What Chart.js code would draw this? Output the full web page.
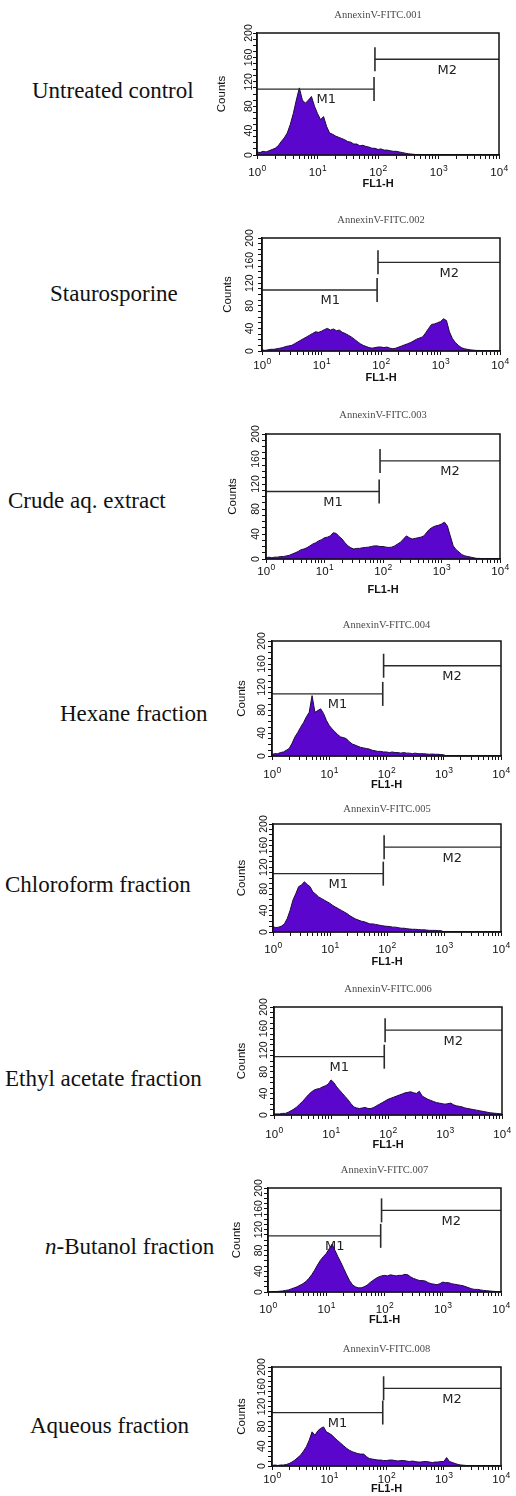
<!DOCTYPE html>
<html><head><meta charset="utf-8">
<script src="https://cdn.jsdelivr.net/npm/chart.js@4/dist/chart.umd.min.js"></script>
<style>
html,body{margin:0;padding:0;background:#fff;}
#wrap{position:relative;width:516px;height:1496px;overflow:hidden;background:#fff;}
.lbl{position:absolute;font-family:'Liberation Serif','Times New Roman',serif;font-size:23px;color:#111;white-space:nowrap;line-height:1;transform:translateY(-50%);}
canvas{position:absolute;}
</style></head><body><div id="wrap"></div>
<script>
// ---------- data ----------
const sampleNames = ['Untreated control','Staurosporine','Crude aq. extract','Hexane fraction','Chloroform fraction','Ethyl acetate fraction','<i>n</i>-Butanol fraction','Aqueous fraction'];
const fileNames = ['AnnexinV-FITC.001','AnnexinV-FITC.002','AnnexinV-FITC.003','AnnexinV-FITC.004','AnnexinV-FITC.005','AnnexinV-FITC.006','AnnexinV-FITC.007','AnnexinV-FITC.008'];
// channel positions: every 0.05 decade from 10^0 to 10^4
const channels = Array.from({length: 81}, (_, i) => Math.pow(10, i * 0.05));

const countsUntreated = [5,4,6,5,7,9,11,15,22,28, 36,50,68,90,110,90,85,90,96,80, 68,58,63,47,36,34,31,29,27,25, 22,21,18,18,15,16,14,13,11,11, 9,10,8,8,7,6,6,5,4,3, 2,1.5,1,0.5,0,0,0,0,0,0, 0,0,0,0,0,0,0,0,0,0, 0,0,0,0,0,0,0,0,0,0, 0];
const countsStaurosporine = [2,1,2,3,3,4,5,6,8,9, 10,13,16,19,22,25,28,31,34,33, 35,38,40,37,39,36,37,33,31,28, 25,21,17,13,10,8,6,5,6,7, 7,6,7,5,4,5,7,9,11,13, 15,18,21,23,25,32,40,47,48,50, 52,57,54,34,22,15,10,6,4,3, 2,1.5,1,1,0.5,0,0,0,0,0, 0];
const countsCrude = [2,3,2,3,3,4,4,5,6,8, 10,12,15,16,18,21,24,26,29,31, 34,35,37,42,41,36,32,26,21,18, 16,17,17,18,18.5,19,20,21,21,20, 20,19,18.5,19,21,24,27,32,37,34, 32,33,34,35,37,43,48,51,53,54, 56,59,53,37,21,15,11,7,5,4, 3,2,1,1,0.5,0,0,0,0,0, 0];
const countsHexane = [3,4,4,6,7,10,13,22,33,41, 50,58,68,76,105,76,79,82,74,62, 53,47,42,37,33,32,30,25,21,19, 17,15,14,13,12,10,9,8,8,7, 7,6,7,6,6,5,6,5,5,4, 5,4,4,4,3.5,3,3.5,3,3,2.5, 2,0,0,0,0,0,0,0,0,0, 0,0,0,0,0,0,0,0,0,0, 0];
const countsChloroform = [10,8,9,11,15,25,40,59,71,84, 87,93,88,84,74,70,65,62,59,56, 53,49,46,43,40,37,34,30,27,24, 22,20,19,17,15,15,14,13,12,11, 10.5,10,9,9,8,7,7,6,5.5,5, 5,4.5,4,4,3.5,3,3,3,2.5,2.5, 0,0,0,0,0,0,0,0,0,0, 0,0,0,0,0,0,0,0,0,0, 0];
const countsEthylAcetate = [2,2,2,3,3,5,8,11,15,20, 25,31,37,42,46,48,49,52,54,57, 65,60,52,46,40,34,28,21,15,13, 12,13,14,12,12,14,17,20,23,26, 29,31,33,35,37,39,41,42,43,41, 40,44,35,32,29,27,25,23,22,21, 20,21,22,19,17,16,15,13,12,11, 10,9,8,7,6,5,4,3.5,3,2.5, 2];
const countsButanol = [0.5,0.5,1,1,1.5,2,3,4,6,8, 10,13,16,20,26,33,42,52,61,68, 74,83,92,80,68,57,45,33,22,14, 10,8,8,10,13,18,22,26,29,31, 32,31,33,32,31,32,32,34,33,29, 26,24,22,22,21,18,16,15,14,16, 19,18,18,16,15,14,13,12,10,8, 6,5,5,4,3,2.5,2,1.5,1,0.5, 0];
const countsAqueous = [1,2,1,2,2,3,5,8,12,17, 22,30,39,52,69,62,71,76,79,69, 66,62,56,51,46,41,36,32,29,27, 25,24,24,19,15,14,13,12,12,11, 11,12,12,11,10,11,11,10,9,10, 9,8,8,9,9,8,7,8,8,9, 9,17,9,7,5,3,2,1.5,1,0.5, 0,0,0,0,0,0,0,0,0,0, 0];
const allCounts = [countsUntreated,countsStaurosporine,countsCrude,countsHexane,countsChloroform,countsEthylAcetate,countsButanol,countsAqueous];

// marker gates
const markerNames = ['M1','M2'];
const markerStarts = [1, 89];
const markerEnds = [86, 10000];
const markerLevels = [108, 157];
const markerLabelAt = [14, 1400];

// axis ticks
const xDecades = [1, 10, 100, 1000, 10000];
const xTickBase = '10';
const xTickExponents = ['0','1','2','3','4'];
const yTickValues = [0,40,80,120,160,200];
const yTickLabels = ['0','40','80','120','160','200'];

// ---------- layout (page px) ----------
const boxes = [
  {l:257,t:33,r:499,b:155, tOff:18,fOff:29, yOff:8,  cOff:35, ttl:18, ly:90},
  {l:262,t:238,r:500,b:351,tOff:15,fOff:27, yOff:12, cOff:34, ttl:18, ly:293},
  {l:266,t:434,r:500,b:559,tOff:13,fOff:31, yOff:10, cOff:33, ttl:19, ly:500},
  {l:272,t:641,r:501,b:756,tOff:19,fOff:29, yOff:10, cOff:30, ttl:16, ly:713},
  {l:273,t:824,r:501,b:932,tOff:18,fOff:30, yOff:9,  cOff:31, ttl:15, ly:884},
  {l:274,t:1007,r:502,b:1115,tOff:20,fOff:30,yOff:10,cOff:32, ttl:18, ly:1078},
  {l:268,t:1188,r:501,b:1292,tOff:18,fOff:28,yOff:9, cOff:31, ttl:18, ly:1246},
  {l:272,t:1367,r:501,b:1466,tOff:14,fOff:23,yOff:10,cOff:30, ttl:18, ly:1425}
];
const labelLefts = [32,50,8,60,5,5,45,30];

const FILL = '#5a06cc';
const EDGE = '#1c0b3c';
const INK = '#111111';
const SANS = "'Liberation Sans', Arial, sans-serif";

const wrap = document.getElementById('wrap');

const framePlugin = {
  id: 'frame',
  afterDraw(chart) {
    const {ctx, chartArea: a, scales} = chart;
    const idx = chart.options.panelIndex;
    const B = boxes[idx];
    ctx.save();
    ctx.strokeStyle = INK;
    ctx.lineWidth = 1.5;
    ctx.strokeRect(a.left, a.top, a.right - a.left, a.bottom - a.top);
    // x tick labels: 10 with raised exponent, at the scale's decade positions
    ctx.fillStyle = INK;
    ctx.textBaseline = 'middle';
    ctx.textAlign = 'left';
    const baseFont = "11.5px " + SANS, expFont = "8.5px " + SANS;
    xDecades.forEach((v, k) => {
      const px = scales.x.getPixelForValue(v);
      const py = a.bottom + B.tOff;
      ctx.font = baseFont; const w1 = ctx.measureText(xTickBase).width;
      ctx.font = expFont; const w2 = ctx.measureText(xTickExponents[k]).width;
      const x0 = px - (w1 + w2) / 2;
      ctx.font = baseFont; ctx.fillText(xTickBase, x0, py);
      ctx.font = expFont; ctx.fillText(xTickExponents[k], x0 + w1 + 0.5, py - 4.5);
    });
    // file title
    ctx.fillStyle = '#4a4a4a';
    ctx.font = "10.5px 'Liberation Serif', 'Times New Roman', serif";
    ctx.textAlign = 'center';
    ctx.fillText(fileNames[idx], (a.left + a.right) / 2, a.top - B.ttl);
    // marker labels
    ctx.fillStyle = '#222';
    ctx.font = "13px 'DejaVu Sans', sans-serif";
    for (let m = 0; m < markerNames.length; m++) {
      const x = scales.x.getPixelForValue(markerLabelAt[m]);
      const y = scales.y.getPixelForValue(markerLevels[m]) + 11;
      ctx.fillText(markerNames[m], x, y);
    }
    ctx.restore();
  }
};

boxes.forEach((B, i) => {
  // left sample label
  const d = document.createElement('div');
  d.className = 'lbl';
  d.innerHTML = sampleNames[i];
  d.style.left = labelLefts[i] + 'px';
  d.style.top = B.ly + 'px';
  wrap.appendChild(d);

  const topPad = 30;
  const xAxisH = B.fOff + 8;
  const w = 316;
  const h = (B.b - B.t) + topPad + xAxisH;
  const cv = document.createElement('canvas');
  cv.width = w; cv.height = h;
  cv.style.left = '200px'; cv.style.top = (B.t - topPad) + 'px';
  cv.style.width = w + 'px'; cv.style.height = h + 'px';
  wrap.appendChild(cv);

  const counts = allCounts[i];
  const datasets = [{
    data: channels.map((x, k) => ({x, y: counts[k]})),
    fill: 'origin', backgroundColor: FILL, borderColor: EDGE, borderWidth: 1,
    pointRadius: 0, tension: 0, order: 3
  }];
  for (let m = 0; m < markerNames.length; m++) {
    datasets.push({
      data: [{x: markerStarts[m], y: markerLevels[m]}, {x: markerEnds[m], y: markerLevels[m]}],
      fill: false, borderColor: '#2a2a2a', borderWidth: 1.3,
      pointStyle: 'line', pointRotation: 90,
      pointRadius: m === 0 ? [0, 12] : [12, 0],
      pointBorderColor: '#2a2a2a', pointBorderWidth: 1.6,
      order: 1
    });
  }

  new Chart(cv, {
    type: 'line',
    data: {datasets},
    options: {
      panelIndex: i,
      responsive: false, animation: false, events: [],
      devicePixelRatio: 1,
      layout: {padding: {left: 0, right: w - (B.r - 200), top: topPad, bottom: 0}},
      plugins: {legend: {display: false}, tooltip: {enabled: false}, title: {display: false}},
      scales: {
        x: {
          type: 'logarithmic', min: 1, max: 10000,
          afterBuildTicks: s => {
            const t = [];
            xDecades.forEach((d0, k) => {
              if (k === xDecades.length - 1) { t.push({value: d0}); return; }
              for (let m = 1; m <= 9; m++) t.push({value: d0 * m});
            });
            s.ticks = t;
          },
          afterFit: s => { s.height = xAxisH; },
          ticks: {display: false, autoSkip: false, maxRotation: 0, minRotation: 0},
          grid: {drawOnChartArea: false, drawTicks: true, tickLength: 4, color: INK, lineWidth: 1},
          border: {display: true, color: INK, width: 1.5},
          title: {display: true, text: 'FL1-H', color: INK, font: {family: SANS, size: 11, weight: 'bold'}, padding: {top: 0, bottom: 1.4}}
        },
        y: {
          type: 'linear', min: 0, max: 200,
          afterBuildTicks: s => {
            const t = [];
            for (let v = 0; v <= 200; v += 10) t.push({value: v});
            s.ticks = t;
          },
          afterFit: s => { s.width = B.l - 200; },
          ticks: {
            autoSkip: false, minRotation: 90, maxRotation: 90, crossAlign: 'center',
            padding: B.yOff - 4 - 8.8,
            font: {family: SANS, size: 10.5}, color: INK,
            callback: v => { const k = yTickValues.indexOf(v); return k >= 0 ? yTickLabels[k] : ''; }
          },
          grid: {drawOnChartArea: false, drawTicks: true, tickLength: 4, color: INK, lineWidth: 1},
          border: {display: true, color: INK, width: 1.5},
          title: {display: true, text: 'Counts', color: INK, font: {family: "'Liberation Sans Narrow', " + SANS, size: 11.5}, padding: {top: B.l - B.cOff - 207, bottom: 0}}
        }
      }
    },
    plugins: [framePlugin]
  });
});
</script>
</body></html>
